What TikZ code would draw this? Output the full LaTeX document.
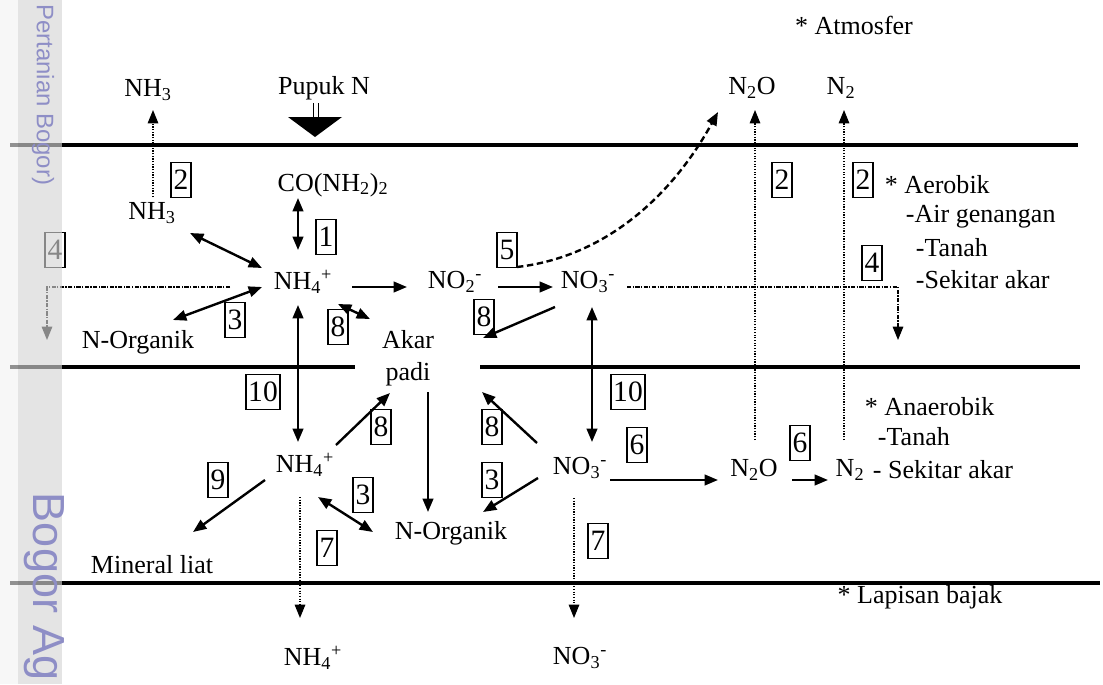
\documentclass[tikz,border=0pt]{standalone}
\usepackage{fontspec}
\setmainfont{Liberation Serif}
\newfontfamily\wmfont{Liberation Sans}
\usetikzlibrary{arrows.meta,calc}
\definecolor{wmark}{HTML}{8E8EC6}
\definecolor{band}{HTML}{D4D4D4}

\begin{document}
\begin{tikzpicture}[x=0.025cm,y=-0.025cm,>={Triangle[length=9.5pt,width=7.5pt]},
  font=\fontsize{18.5}{22.7}\selectfont,
  numbox/.style={draw,line width=1.2pt,inner xsep=1.5pt,inner ysep=0pt,minimum width=0.5cm,minimum height=0.88cm,font=\fontsize{21}{21}\selectfont},
  flow/.style={line width=1.7pt},
  leach/.style={line width=0.9pt,densely dotted},
  drain/.style={line width=0.9pt,densely dashdotted},
  layer/.style={line width=2.2pt}]
\useasboundingbox (0,0) rectangle (1103,684);

% soil layers
\draw[layer] (10,145) -- (1078,145);
\draw[layer] (10,367) -- (355,367);
\draw[layer] (480,367) -- (1080,367);
\draw[layer] (10,583) -- (1100,583);

% species and labels
\node (atm) at (854,25) {* Atmosfer};
\node (nhtop) at (148,90) {NH\textsubscript{3}};
\node (pupuk) at (324,88) {Pupuk N};
\node (ntotop) at (752,88) {N\textsubscript{2}O};
\node (ntop) at (841,88) {N\textsubscript{2}};
\node (nh3) at (152,213) {NH\textsubscript{3}};
\node (urea) at (333,185) {CO(NH\textsubscript{2})\textsubscript{2}};
\node (nh4a) at (303,282) {NH\textsubscript{4}\textsuperscript{+}};
\node (no2) at (455,282) {NO\textsubscript{2}\textsuperscript{-}};
\node (no3a) at (588,282) {NO\textsubscript{3}\textsuperscript{-}};
\node (orga) at (138,342) {N-Organik};
\node[align=center] (akar) at (408,358) {Akar\\padi};
\node (nh4b) at (305,465) {NH\textsubscript{4}\textsuperscript{+}};
\node (no3b) at (580,468) {NO\textsubscript{3}\textsuperscript{-}};
\node (n2ob) at (754,470) {N\textsubscript{2}O};
\node (n2b) at (850,470) {N\textsubscript{2}};
\node[anchor=west] (sekb) at (868,470) {- Sekitar akar};
\node (orgb) at (451,533) {N-Organik};
\node (mineral) at (152,565) {Mineral liat};
\node (nh4c) at (313,658) {NH\textsubscript{4}\textsuperscript{+}};
\node (no3c) at (580,658) {NO\textsubscript{3}\textsuperscript{-}};
\node (lapisan) at (920,597) {* Lapisan bajak};
\node[anchor=west] (aerob) at (880,185) {* Aerobik};
\node[anchor=west] (air) at (901,217) {-Air genangan};
\node[anchor=west] (tanaha) at (911,248) {-Tanah};
\node[anchor=west] (sekita) at (911,280) {-Sekitar akar};
\node[anchor=west] (anaer) at (860,407) {* Anaerobik};
\node[anchor=west] (tanahb) at (873,437) {-Tanah};

% process numbers
\node[numbox] (b1) at (326,237) {1};
\node[numbox] (b2a) at (181,180) {2};
\node[numbox] (b2b) at (782,180) {2};
\node[numbox] (b2c) at (863,180) {2};
\node[numbox] (b3a) at (235,320) {3};
\node[numbox] (b3b) at (363,495) {3};
\node[numbox] (b3c) at (492,480) {3};
\node[numbox] (b4a) at (55,250) {4};
\node[numbox] (b4b) at (872,263) {4};
\node[numbox] (b5) at (507,250) {5};
\node[numbox] (b6a) at (637,445) {6};
\node[numbox] (b6b) at (800,443) {6};
\node[numbox] (b7a) at (327,548) {7};
\node[numbox] (b7b) at (598,541) {7};
\node[numbox] (b8a) at (338,327) {8};
\node[numbox] (b8b) at (484,317) {8};
\node[numbox] (b8c) at (381,427) {8};
\node[numbox] (b8d) at (492,427) {8};
\node[numbox] (b9) at (218,480) {9};
\node[numbox] (b10a) at (263,392) {10};
\node[numbox] (b10b) at (628,392) {10};

% fertiliser input
\draw[line width=0.6pt] ($(pupuk)+(-11,15)$) -- ($(pupuk)+(-11,29)$)
  ($(pupuk)+(-6,15)$) -- ($(pupuk)+(-6,29)$);
\fill ($(pupuk)+(-36,29)$) -- ($(pupuk)+(18,29)$) -- ($(pupuk)+(-9,49)$) -- cycle;

% aerobic layer
\draw[flow,<->] ($(urea)+(-35,13)$) -- ($(nh4a)+(-5,-32)$);
\draw[flow,<->] ($(nh3)+(38,20)$) -- ($(nh4a)+(-41,-14)$);
\draw[flow,<->] ($(orga)+(35,-22)$) -- ($(nh4a)+(-41,5)$);
\draw[flow,->] ($(nh4a)+(49,5)$) -- ($(no2)+(-48,5)$);
\draw[flow,->] ($(no2)+(43,5)$) -- ($(no3a)+(-35,5)$);
\draw[flow,<->] ($(nh4a)+(35,22)$) -- ($(akar)+(-38,-39)$);
\draw[flow,->] ($(no3a)+(-33,25)$) -- ($(akar)+(75,-20)$);
\draw[flow,->,dash pattern=on 0.16cm off 0.09cm] ($(no2)+(62,-15)$)
  .. controls (605,257) and (672,196) .. ($(ntotop)+(-34,24)$);
\draw[leach,->] ($(nh3)+(1,-16)$) -- ($(nhtop)+(5,20)$);
\draw[drain,->] ($(nh4a)+(-73,5)$) -| ($(b4a)+(-8,90)$);
\draw[drain,->] ($(no3a)+(39,5)$) -| ($(b4b)+(26,77)$);

% exchange between layers
\draw[flow,<->] ($(nh4a)+(-5,23)$) -- ($(nh4b)+(-7,-23)$);
\draw[flow,<->] ($(no3a)+(4,25)$) -- ($(no3b)+(12,-26)$);
\draw[leach,->] ($(n2ob)+(1,-30)$) -- ($(ntotop)+(3,22)$);
\draw[leach,->] ($(n2b)+(-6,-30)$) -- ($(ntop)+(3,22)$);

% anaerobic layer
\draw[flow,->] ($(nh4b)+(31,-20)$) -- ($(akar)+(-18,35)$);
\draw[flow,->] ($(no3b)+(-43,-25)$) -- ($(akar)+(74,34)$);
\draw[flow,->] ($(akar)+(20,34)$) -- ($(orgb)+(-23,-21)$);
\draw[flow,<->] ($(nh4b)+(13,32)$) -- ($(orgb)+(-78,-1)$);
\draw[flow,->] ($(no3b)+(-42,10)$) -- ($(orgb)+(32,-21)$);
\draw[flow,->] ($(nh4b)+(-40,15)$) -- ($(mineral)+(41,-33)$);
\draw[flow,->] ($(no3b)+(30,12)$) -- ($(n2ob)+(-36,10)$);
\draw[flow,->] ($(n2ob)+(38,10)$) -- ($(n2b)+(-22,10)$);
\draw[leach,->] ($(nh4b)+(-5,32)$) -- ($(nh4c)+(-13,-40)$);
\draw[leach,->] ($(no3b)+(-6,30)$) -- ($(no3c)+(-6,-40)$);

% scan watermark
\fill[black!5,opacity=0.6] (0,0) rectangle (18,684);
\fill[band,opacity=0.64] (18,0) rectangle (62,684);
\begin{scope}
\clip (0,0) rectangle (1103,684);
\node[rotate=-90,anchor=east,text=wmark,font=\wmfont\fontsize{17}{19}\selectfont] (wm1) at (43,190) {Pertanian Bogor)};
\node[rotate=-90,anchor=west,text=wmark,font=\wmfont\fontsize{32}{34}\selectfont] (wm2) at (44,488) {Bogor Ag};
\end{scope}
\end{tikzpicture}
\end{document}
